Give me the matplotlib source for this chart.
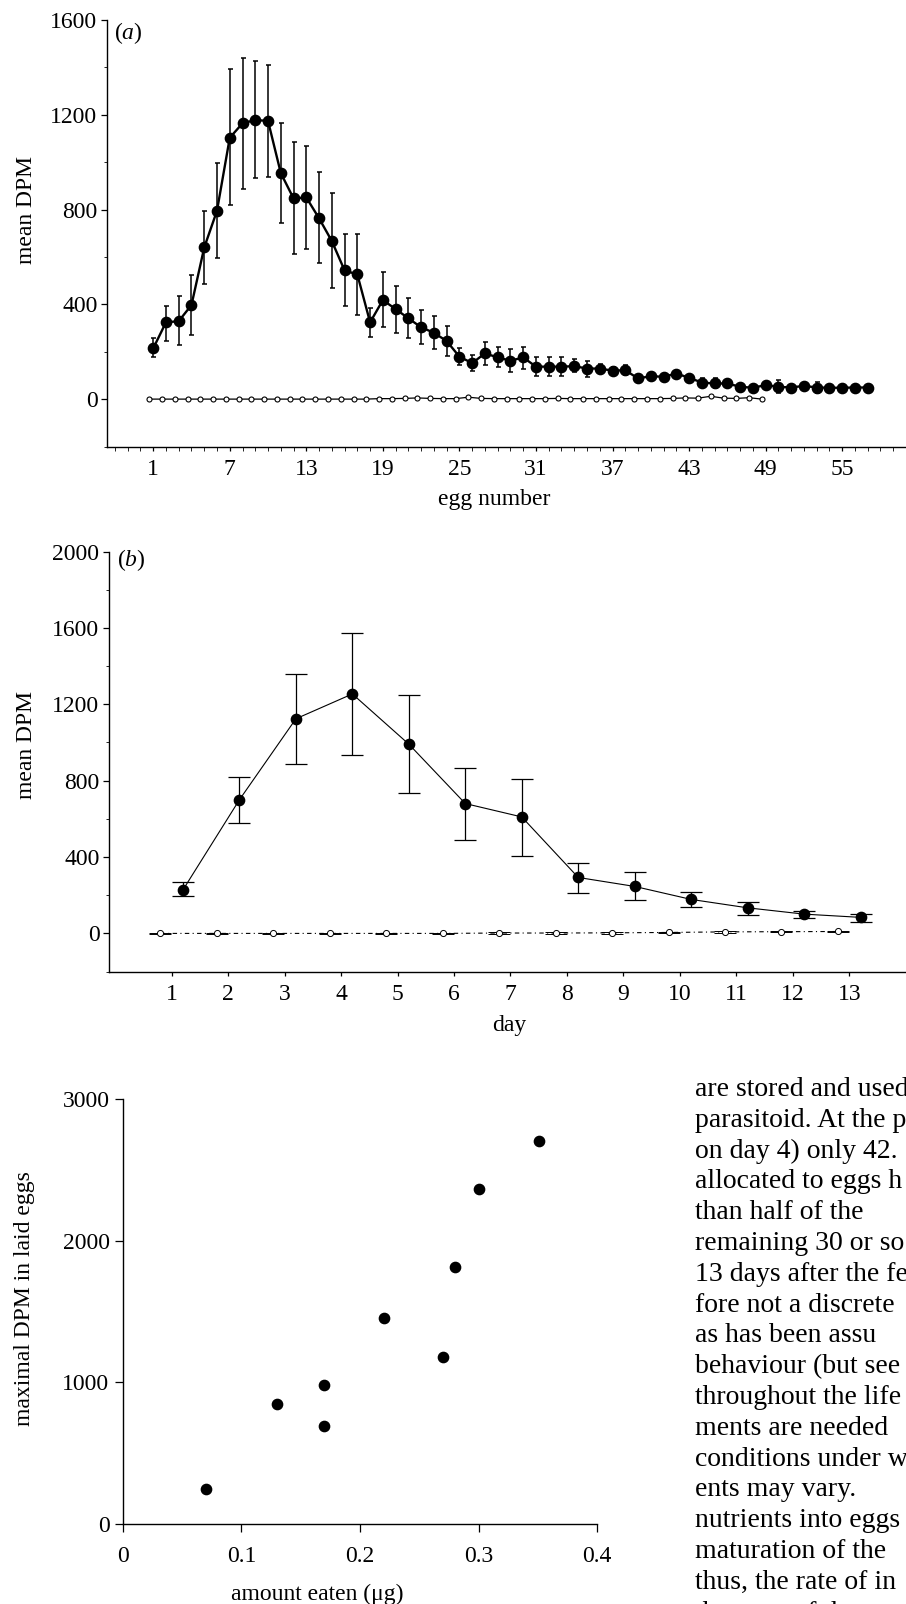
import matplotlib
matplotlib.use("Agg")
import matplotlib.pyplot as plt
from matplotlib.ticker import MultipleLocator, FixedLocator

# figure size in pixels
W, H = 906, 1604

plt.rcParams['font.family'] = ['Liberation Serif', 'DejaVu Serif']
plt.rcParams['mathtext.fontset'] = 'custom'
plt.rcParams['mathtext.rm'] = 'Liberation Serif'
plt.rcParams['mathtext.it'] = 'Liberation Serif:italic'

# (a) mean DPM per egg number
egg_fed = list(range(1, 58))
dpm_fed = [214, 324, 329, 397, 640, 795, 1103, 1164, 1178, 1174,
           954, 847, 851, 763, 667, 543, 526, 324, 418, 380,
           341, 303, 280, 245, 179, 152, 193, 176, 162, 176,
           137, 137, 137, 139, 129, 129, 120, 122, 87, 97,
           94, 108, 90, 70, 66, 66, 52, 48, 59, 52,
           49, 56, 49, 48, 48, 49, 49]
err_up = [256, 394, 435, 523, 792, 995, 1392, 1441, 1427, 1411,
          1164, 1084, 1070, 957, 868, 695, 695, 386, 536, 477,
          425, 374, 350, 308, 214, 186, 242, 221, 210, 221,
          176, 176, 178, 169, 162, 148, 137, 143, 97, 104,
          100, 118, 98, 87, 87, 75, 60, 55, 66, 80,
          56, 63, 72, 54, 54, 55, 54]
err_lo = [179, 246, 227, 269, 485, 597, 819, 887, 932, 939,
          744, 612, 633, 573, 467, 393, 357, 263, 305, 280,
          256, 232, 210, 182, 146, 120, 144, 134, 115, 129,
          97, 97, 96, 115, 94, 110, 103, 101, 78, 90,
          88, 98, 82, 52, 45, 57, 44, 41, 52, 27,
          42, 49, 26, 42, 42, 43, 44]
egg_ctrl = [e - 0.3 for e in range(1, 50)]
dpm_ctrl = [0, 0, 0, 0, 0, 0, 0, 0, 0, 0,
            0, 0, 0, 0, 0, 0, 0, 0, 2, 2,
            3, 5, 3, 2, 2, 8, 3, 2, 2, 2,
            2, 2, 3, 2, 2, 2, 2, 2, 2, 2,
            2, 3, 5, 4, 12, 4, 3, 6, 0]
a_xticks = [1, 7, 13, 19, 25, 31, 37, 43, 49, 55]

# (b) mean DPM per day
day_fed = [d + 0.2 for d in range(1, 14)]
dpm_day = [228, 700, 1124, 1254, 991, 680, 610, 293, 246, 178, 134, 101, 84]
day_up = [267, 820, 1357, 1571, 1247, 868, 808, 371, 319, 218, 165, 118, 102]
day_lo = [195, 578, 889, 936, 735, 491, 406, 211, 173, 138, 99, 82, 59]
day_ctrl = [d - 0.2 for d in range(1, 14)]
dpm_day_ctrl = [0, 0, 0, 0, 0, 0, 2, 2, 3, 5, 8, 9, 10]
day_ctrl_err = [4, 4, 4, 4, 4, 4, 4, 4, 4, 4, 4, 4, 4]

# (c) maximal DPM vs amount eaten
eaten = [0.070, 0.130, 0.170, 0.170, 0.220, 0.270, 0.280, 0.300, 0.351]
max_dpm = [244, 846, 983, 690, 1451, 1178, 1812, 2368, 2705]

# text column next to panel (c)
body_lines = [
    "are stored and used",
    "parasitoid. At the p",
    "on day 4) only 42.",
    "allocated to eggs h",
    "than half of the",
    "remaining 30 or so",
    "13 days after the fee",
    "fore not a discrete",
    "as has been assu",
    "behaviour (but see",
    "throughout the life",
    "ments are needed",
    "conditions under w",
    "ents may vary.",
    "nutrients into eggs",
    "maturation of the",
    "thus, the rate of in",
    "the state of the",
]

FS = 17


def px_axes(l, t, r, b):
    return fig.add_axes([l / W, 1 - b / H, (r - l) / W, (b - t) / H])


def style(ax):
    for s in ['top', 'right']:
        ax.spines[s].set_visible(False)
    for s in ['left', 'bottom']:
        ax.spines[s].set_linewidth(1.0)
    ax.tick_params(labelsize=FS, width=0.9, direction='out')


def ftext(x, y, s, **kw):
    fig.text(x / W, 1 - y / H, s, fontsize=kw.pop('fontsize', FS), **kw)


fig = plt.figure(figsize=(W / 100, H / 100), dpi=100)

# ---- panel (a)
ax = px_axes(106.5, 20, 906, 446.5)
style(ax)
ax.set_xlim(-2.66, 60.0)
ax.set_ylim(-200, 1600)
ax.plot(egg_ctrl, dpm_ctrl, '-', color='black', lw=0.9, marker='o', ms=3.6,
        mfc='white', mec='black', mew=0.8, zorder=2)
yerr = [[v - lo for v, lo in zip(dpm_fed, err_lo)], [up - v for v, up in zip(dpm_fed, err_up)]]
ax.errorbar(egg_fed, dpm_fed, yerr=yerr, fmt='-o', color='black', lw=1.7,
            ms=7.4, elinewidth=1.1, capsize=1.8, capthick=1.1, zorder=3)
ax.xaxis.set_major_locator(FixedLocator(a_xticks))
ax.xaxis.set_minor_locator(MultipleLocator(1))
ax.yaxis.set_major_locator(MultipleLocator(400))
ax.yaxis.set_minor_locator(MultipleLocator(200))
ax.tick_params(axis='x', which='both', length=3, pad=6)
ax.tick_params(axis='y', which='major', length=4.5, pad=2)
ax.tick_params(axis='y', which='minor', length=2.5)
ftext(128, 33, r'$\mathrm{(}a\mathrm{)}$', ha='center', va='center')
ftext(27, 210, 'mean DPM', rotation=90, ha='center', va='center')
ftext(494, 500, 'egg number', ha='center', va='center')

# ---- panel (b)
ax = px_axes(108.5, 551.5, 906, 971.6)
style(ax)
ax.set_xlim(-0.119, 14.005)
ax.set_ylim(-200, 2000)
ax.errorbar(day_ctrl, dpm_day_ctrl, yerr=day_ctrl_err, fmt='o', color='black',
            ms=4.4, mfc='white', mec='black', mew=0.7, elinewidth=0.8,
            capsize=8, capthick=1.0, zorder=2)
ax.plot(day_ctrl, dpm_day_ctrl, color='black', lw=0.8, dashes=[4, 3, 1, 3], zorder=1)
yerr = [[v - lo for v, lo in zip(dpm_day, day_lo)], [up - v for v, up in zip(dpm_day, day_up)]]
ax.errorbar(day_fed, dpm_day, yerr=yerr, fmt='-o', color='black', lw=0.8,
            ms=7.4, elinewidth=0.9, capsize=8, capthick=0.9, zorder=3)
ax.xaxis.set_major_locator(FixedLocator(range(1, 14)))
ax.yaxis.set_major_locator(MultipleLocator(400))
ax.yaxis.set_minor_locator(MultipleLocator(200))
ax.tick_params(axis='x', length=3, pad=6)
ax.tick_params(axis='y', which='major', length=4.5, pad=2)
ax.tick_params(axis='y', which='minor', length=2.5)
ftext(131, 560, r'$\mathrm{(}b\mathrm{)}$', ha='center', va='center')
ftext(27, 745, 'mean DPM', rotation=90, ha='center', va='center')
ftext(509, 1026, 'day', ha='center', va='center')

# ---- panel (c)
ax = px_axes(122.7, 1099.3, 597.2, 1523.6)
style(ax)
ax.set_xlim(0, 0.4)
ax.set_ylim(0, 3000)
ax.plot(eaten, max_dpm, 'o', color='black', ms=7.4, clip_on=False)
ax.xaxis.set_major_locator(MultipleLocator(0.1))
ax.yaxis.set_major_locator(MultipleLocator(1000))
ax.xaxis.set_major_formatter(plt.FuncFormatter(lambda v, p: '0' if v == 0 else f'{v:.1f}'))
ax.tick_params(axis='x', length=6, pad=10)
ax.tick_params(axis='y', length=5.5, pad=4)
ftext(24.5, 1299, 'maximal DPM in laid eggs', rotation=90, ha='center', va='center')
ftext(317, 1594, 'amount eaten (\u03bcg)', ha='center', va='center')

# ---- body text column
for i, line in enumerate(body_lines):
    ftext(695, 1096 + i * 30.8, line, fontsize=20, ha='left', va='baseline')

fig.savefig('out.png', dpi=100)
